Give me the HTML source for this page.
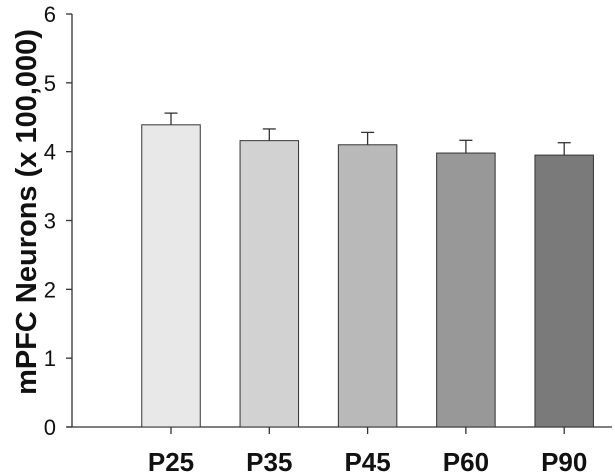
<!DOCTYPE html>
<html><head><meta charset="utf-8"><style>body{margin:0;background:#fff}svg{display:block}</style></head><body>
<svg id="chart" width="615" height="476" xmlns="http://www.w3.org/2000/svg" font-family="Liberation Sans, Arial, sans-serif"></svg>
<script>
const categories=["P25","P35","P45","P60","P90"];
const values=[4.39,4.16,4.10,3.98,3.95];
const errors=[0.17,0.17,0.18,0.185,0.18];
const yTicks=[0,1,2,3,4,5,6];
const colors=["#e8e8e8","#d2d2d2","#b9b9b9","#989898","#7a7a7a"];
const svg=document.getElementById('chart');
const NS="http://www.w3.org/2000/svg";
const y0=427,y6=14,axisX=72;
const ys=v=>y0-(y0-y6)*v/6;
const xc=i=>171+i*98.3;
const bw=58.5;
function mk(t,a){const e=document.createElementNS(NS,t);for(const k in a)e.setAttribute(k,a[k]);svg.appendChild(e);return e;}
let e;
e=mk('line',{x1:axisX,y1:y6,x2:axisX,y2:y0,stroke:'#333','stroke-width':1.3});


e=mk('line',{x1:67,y1:y0,x2:612,y2:y0,stroke:'#333','stroke-width':1.3});


yTicks.forEach(t=>{
 e=mk('line',{x1:66,y1:ys(t),x2:axisX,y2:ys(t),stroke:'#333','stroke-width':1.3});
 
 
 e=mk('text',{x:56,y:ys(t)+8,'text-anchor':'end','font-size':22,fill:'#111'});
 e.textContent=t;
 
 
});
categories.forEach((c,i)=>{
 const x=xc(i),top=ys(values[i]),et=ys(values[i]+errors[i]);
 e=mk('line',{x1:x,y1:top,x2:x,y2:et,stroke:'#333','stroke-width':1.3});
 
 
 e=mk('line',{x1:x-6.5,y1:et,x2:x+6.5,y2:et,stroke:'#333','stroke-width':1.3});
 
 
 e=mk('rect',{x:x-bw/2,y:top,width:bw,height:y0-top,fill:colors[i],stroke:'#333','stroke-width':1});
 
 
 e=mk('line',{x1:x,y1:y0,x2:x,y2:434,stroke:'#333','stroke-width':1.3});
 
 
 e=mk('text',{x:x,y:471,'text-anchor':'middle','font-size':26,'font-weight':'bold',fill:'#111'});
 e.textContent=c;
 
 
});
e=mk('text',{x:0,y:0,'text-anchor':'middle','font-size':29,'font-weight':'bold',fill:'#111',transform:'translate(36,212) rotate(-90)'});
e.textContent='mPFC Neurons (x 100,000)';


</script>
</body></html>
